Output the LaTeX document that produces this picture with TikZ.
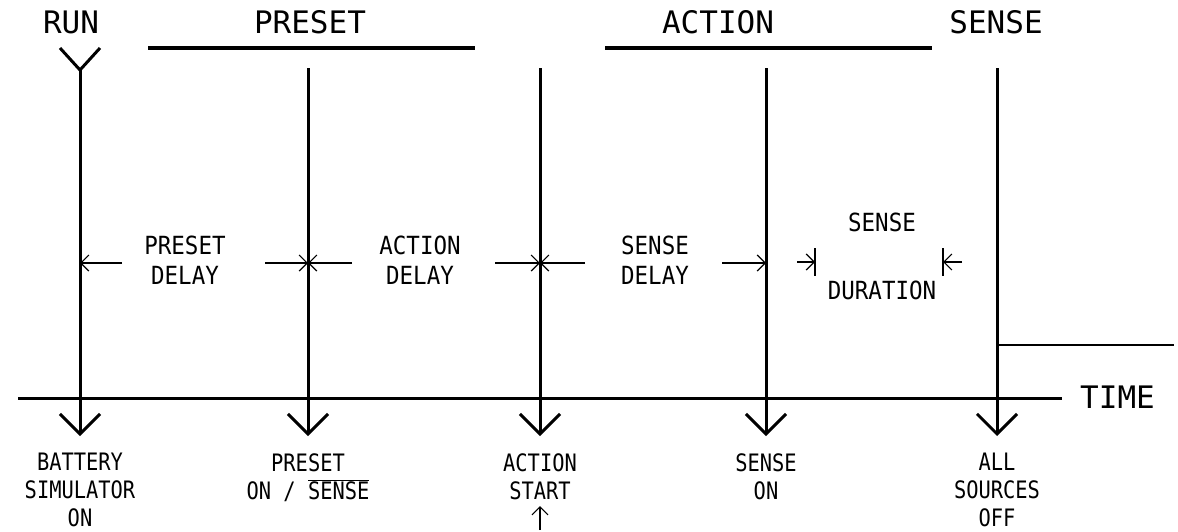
\documentclass[tikz,border=0pt]{standalone}
\usepackage{fontspec}
\setmainfont{DejaVu Sans Mono}
\newfontfamily\plotfont{DejaVu Sans Mono}
\newfontfamily\plotmid[FakeStretch=0.9]{DejaVu Sans Mono}
\newfontfamily\plotlow[FakeStretch=0.85]{DejaVu Sans Mono}
\usetikzlibrary{arrows.meta}

\begin{document}
\begin{tikzpicture}[x=1pt,y=-1pt,
  bigtxt/.style={font=\plotfont\fontsize{31}{32}\selectfont, inner sep=0pt},
  midtxt/.style={font=\plotmid\fontsize{25}{30}\selectfont, align=center, inner sep=0pt},
  lowtxt/.style={font=\plotlow\fontsize{24}{28}\selectfont, align=center, inner sep=0pt, anchor=north},
  bar/.style={line width=4pt},
  eventline/.style={line width=3pt, -{Straight Barb[length=20pt,width=40pt]}},
  dimarrow/.style={line width=1.2pt, -{Straight Barb[length=8pt,width=16pt]}},
  tick/.style={line width=1.5pt}]
\useasboundingbox (0,0) rectangle (1178,531);

% phase titles and bars
\node[bigtxt] (run) at (71,22) {RUN};
\node[bigtxt] (preset) at (310,22) {PRESET};
\node[bigtxt] (action) at (718,22) {ACTION};
\node[bigtxt] (sense) at (996,22) {SENSE};
\coordinate (pbarL) at (148,48);
\coordinate (pbarR) at (475,48);
\coordinate (abarL) at (605,48);
\coordinate (abarR) at (932,48);
\draw[bar] (pbarL) -- (pbarR);
\draw[bar] (abarL) -- (abarR);

% event lines
\coordinate (t1) at (80,70);   \coordinate (b1) at (80,436);
\coordinate (t2) at (308,68);  \coordinate (b2) at (308,436);
\coordinate (t3) at (540,68);  \coordinate (b3) at (540,436);
\coordinate (t4) at (766,68);  \coordinate (b4) at (766,436);
\coordinate (t5) at (997,68);  \coordinate (b5) at (997,436);
\coordinate (yL) at (60,48);
\coordinate (yR) at (100,48);
\draw[line width=3pt] (yL) -- (t1) -- (yR);
\foreach \i in {1,...,5} \draw[eventline] (t\i) -- (b\i);

% time axis
\coordinate (axL) at (18,398);
\coordinate (axR) at (1062,398);
\draw[line width=3pt] (axL) -- (axR);
\node[bigtxt, anchor=west] (time) at (1080,397) {TIME};

% output level after the last event
\coordinate (lvl) at (997,345);
\coordinate (lvlR) at (1174,345);
\draw[line width=1.5pt] (lvl) -- (lvlR);

% delay labels and dimension arrows
\node[midtxt] (pd) at (185,260) {PRESET\\DELAY};
\node[midtxt] (ad) at (420,260) {ACTION\\DELAY};
\node[midtxt] (sd) at (655,260) {SENSE\\DELAY};
\node[midtxt] (sdur) at (882,222) {SENSE};
\node[midtxt] (dur) at (882,290) {DURATION};

\coordinate (m1) at (80,263);
\coordinate (m2) at (308,263);
\coordinate (m3) at (540,263);
\coordinate (m4) at (766,263);
\coordinate (d1s) at (122,263);
\coordinate (d2s) at (265,263);
\coordinate (d3s) at (352,263);
\coordinate (d4s) at (495,263);
\coordinate (d5s) at (585,263);
\coordinate (d6s) at (722,263);
\draw[dimarrow] (d1s) -- (m1);
\draw[dimarrow] (d2s) -- (m2);
\draw[dimarrow] (d3s) -- (m2);
\draw[dimarrow] (d4s) -- (m3);
\draw[dimarrow] (d5s) -- (m3);
\draw[dimarrow] (d6s) -- (m4);

\coordinate (k1t) at (815,248); \coordinate (k1b) at (815,276);
\coordinate (k2t) at (943,248); \coordinate (k2b) at (943,276);
\coordinate (k1) at (815,262); \coordinate (k2) at (943,262);
\coordinate (e1) at (797,262); \coordinate (e2) at (962,262);
\draw[tick] (k1t) -- (k1b);
\draw[tick] (k2t) -- (k2b);
\draw[dimarrow] (e1) -- (k1);
\draw[dimarrow] (e2) -- (k2);

% event labels
\node[lowtxt] (ev1) at (80,453) {BATTERY\\SIMULATOR\\ON};
\node[lowtxt] (ev2) at (308,453) {PRESET\\ON / $\overline{\hbox{SENSE}}$};
\node[lowtxt] (ev3) at (540,453) {ACTION\\START};
\node[lowtxt] (ev4) at (766,453) {SENSE\\ON};
\node[lowtxt] (ev5) at (997,453) {ALL\\SOURCES\\OFF};
\coordinate (upB) at (540,530);
\coordinate (upT) at (540,506);
\draw[dimarrow] (upB) -- (upT);
\end{tikzpicture}
\end{document}
